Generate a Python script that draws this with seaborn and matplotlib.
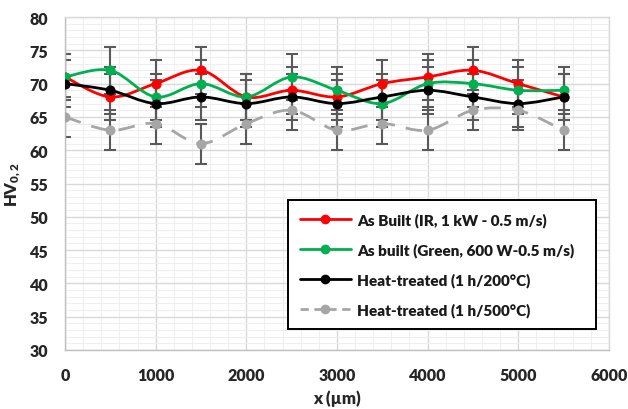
import numpy as np
import pandas as pd
import matplotlib
matplotlib.use("Agg")
import matplotlib.pyplot as plt
import seaborn as sns
from matplotlib.ticker import MultipleLocator
from matplotlib.path import Path
from matplotlib.patches import PathPatch
from matplotlib.lines import Line2D

x_um = [0, 500, 1000, 1500, 2000, 2500, 3000, 3500, 4000, 4500, 5000, 5500]
as_built_ir = [71, 68, 70, 72, 68, 69, 68, 70, 71, 72, 70, 68]
as_built_green = [71, 72, 68, 70, 68, 71, 69, 67, 70, 70, 69, 69]
heat_200 = [70, 69, 67, 68, 67, 68, 67, 68, 69, 68, 67, 68]
heat_500 = [65, 63, 64, 61, 64, 66, 63, 64, 63, 66, 66, 63]
err_main = 3.5
err_500 = 3.0

labels = ["As Built (IR, 1 kW - 0.5 m/s)",
          "As built (Green, 600 W-0.5 m/s)",
          "Heat-treated (1 h/200°C)",
          "Heat-treated (1 h/500°C)"]
series = [as_built_ir, as_built_green, heat_200, heat_500]
errs = [err_main, err_main, err_main, err_500]
colors = ["#FF0000", "#00B050", "#000000", "#A6A6A6"]
dashes = [None, None, None, (3, 2)]

sns.set_style("white")
plt.rcParams['font.family'] = ['Lato', 'DejaVu Sans']
plt.rcParams['mathtext.fontset'] = 'custom'
plt.rcParams['mathtext.rm'] = 'Lato:weight=heavy'
plt.rcParams['mathtext.bf'] = 'Lato:weight=heavy'
plt.rcParams['mathtext.it'] = 'Lato:weight=heavy'

fig = plt.figure(figsize=(6.28, 4.10), dpi=100)
ax = fig.add_axes([0.1035, 0.144, 0.866, 0.812])


def smooth_path(xs, ys):
    # Excel-style smoothed line: cubic Bezier segments through the data points
    pts = np.column_stack([xs, ys]).astype(float)
    n = len(pts)
    verts = [pts[0]]
    codes = [Path.MOVETO]
    for i in range(n - 1):
        p0 = pts[i - 1] if i > 0 else pts[i]
        p1 = pts[i]
        p2 = pts[i + 1]
        p3 = pts[i + 2] if i + 2 < n else pts[i + 1]
        c1 = p1 + (p2 - p0) / 6.0
        c2 = p2 - (p3 - p1) / 6.0
        verts += [c1, c2, p2]
        codes += [Path.CURVE4] * 3
    return Path(verts, codes)


for ys, e in zip(series, errs):
    ax.errorbar(x_um, ys, yerr=e, fmt="none", ecolor="#595959", elinewidth=1.5,
                capsize=4, capthick=1.5, zorder=2)

handles = []
for ys, lab, c, d in zip(series, labels, colors, dashes):
    patch = PathPatch(smooth_path(x_um, ys), facecolor="none", edgecolor=c,
                      linewidth=2.0, zorder=3, transform=ax.transData)
    if d is not None:
        patch.set_linestyle((0, (6, 4)))
    ax.add_patch(patch)
    df = pd.DataFrame({"x": x_um, "y": ys})
    sns.lineplot(data=df, x="x", y="y", ax=ax, color=c, linestyle="none",
                 marker="o", markersize=6.5, markeredgecolor=c, zorder=4)
    h = Line2D([], [], color=c, linewidth=2.0, marker="o", markersize=6,
               markeredgecolor=c, linestyle="-" if d is None else (0, d))
    handles.append(h)

ax.set_xlim(0, 6000)
ax.set_ylim(30, 80)
ax.xaxis.set_major_locator(MultipleLocator(1000))
ax.xaxis.set_minor_locator(MultipleLocator(200))
ax.yaxis.set_major_locator(MultipleLocator(5))
ax.yaxis.set_minor_locator(MultipleLocator(1))
ax.grid(which="major", color="#D9D9D9", linewidth=1.0, zorder=0)
ax.grid(which="minor", color="#EFEFEF", linewidth=0.8, zorder=0)
ax.set_axisbelow(True)
for s in ax.spines.values():
    s.set_color("#D9D9D9")
    s.set_linewidth(1.0)
ax.spines["left"].set_color("#BFBFBF")
ax.spines["bottom"].set_color("#BFBFBF")
ax.tick_params(axis="both", which="major", length=5, color="#BFBFBF",
               labelsize=11.5, pad=7)
ax.tick_params(axis="both", which="minor", length=0)
for t in ax.get_xticklabels() + ax.get_yticklabels():
    t.set_fontweight("heavy")
    t.set_color("#262626")

ax.set_xlabel("x (µm)", fontsize=12, fontweight="heavy", color="#262626", labelpad=5)
ax.set_ylabel("HV$_{0,2}$", fontsize=12, fontweight="heavy", color="#262626", labelpad=5)

leg = ax.legend(handles=handles, labels=labels, loc="lower left",
                bbox_to_anchor=(0.41, 0.063, 0.566, 0.369),
                mode="expand", frameon=True, fancybox=False, borderaxespad=0,
                prop={"family": "Lato", "weight": "heavy", "size": 11}, handlelength=3.3,
                labelspacing=1.0, borderpad=0.8, handletextpad=0.45)
leg.get_frame().set_edgecolor("#000000")
leg.get_frame().set_linewidth(1.4)
leg.get_frame().set_alpha(1)
for t in leg.get_texts():
    t.set_color("#1a1a1a")

fig.savefig("out.png", dpi=100)
